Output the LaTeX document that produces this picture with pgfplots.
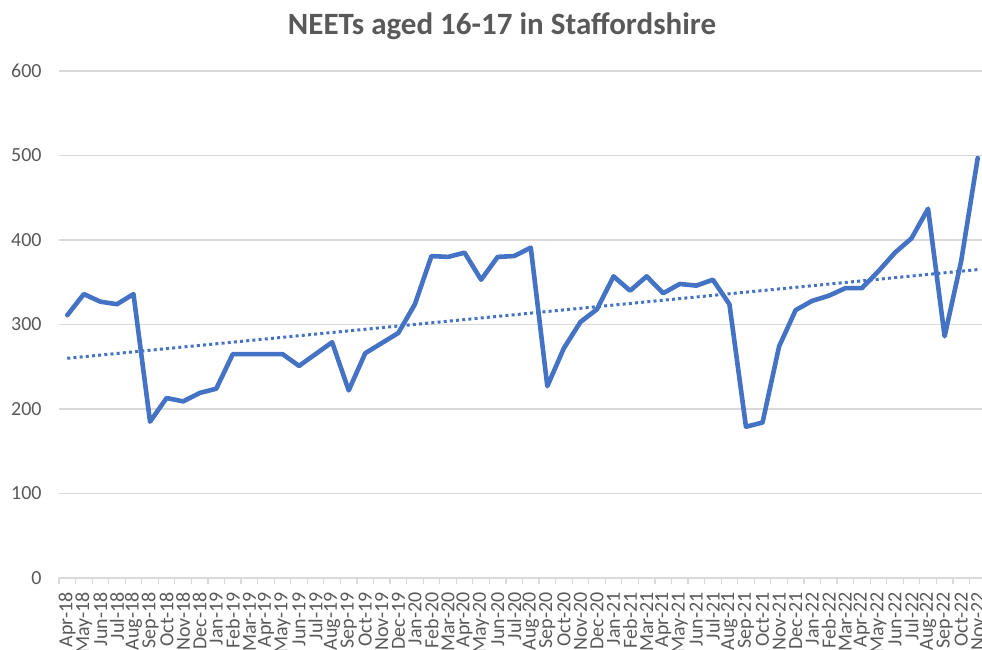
\documentclass[border=0pt]{standalone}
\usepackage{fontspec}
\setmainfont{Carlito}
\usepackage{pgfplots}
\usepackage{pgfplotstable}
\pgfplotsset{compat=1.18}
\definecolor{exblue}{HTML}{4472C4}
\definecolor{exgrid}{HTML}{D9D9D9}
\definecolor{extext}{HTML}{595959}
\pgfplotstableread{
idx val
0 311
1 336
2 327
3 324
4 336
5 185
6 213
7 209
8 219
9 224
10 265
11 265
12 265
13 265
14 251
15 265
16 279
17 222
18 266
19 278
20 290
21 324
22 381
23 380
24 385
25 353
26 380
27 381
28 391
29 227
30 272
31 303
32 318
33 357
34 340
35 357
36 337
37 348
38 346
39 353
40 324
41 179
42 184
43 274
44 317
45 328
46 334
47 343
48 343
49 363
50 385
51 402
52 437
53 286
54 375
55 497
}\neets
\begin{document}
\begin{tikzpicture}[x=1pt,y=1pt]
\begin{axis}[
  at={(59pt,72pt)}, anchor=south west,
  scale only axis, width=927pt, height=507pt,
  xmin=-0.5, xmax=55.5, ymin=0, ymax=600,
  ytick={0,100,...,600},
  ymajorgrids, grid style={exgrid, line width=1.3pt},
  axis x line*=bottom, axis y line*=left,
  y axis line style={draw=none},
  x axis line style={draw=exgrid, line width=1.3pt, -},
  ytick style={draw=none},
  xtick={0,...,55},
  major x tick style={draw=none},
  minor xtick={-0.5,0.5,...,55.5},
  minor x tick style={exgrid, line width=1.2pt},
  minor tick length=6pt,
  tick align=outside,
  xticklabels={Apr-18,May-18,Jun-18,Jul-18,Aug-18,Sep-18,Oct-18,Nov-18,Dec-18,Jan-19,Feb-19,Mar-19,Apr-19,May-19,Jun-19,Jul-19,Aug-19,Sep-19,Oct-19,Nov-19,Dec-19,Jan-20,Feb-20,Mar-20,Apr-20,May-20,Jun-20,Jul-20,Aug-20,Sep-20,Oct-20,Nov-20,Dec-20,Jan-21,Feb-21,Mar-21,Apr-21,May-21,Jun-21,Jul-21,Aug-21,Sep-21,Oct-21,Nov-21,Dec-21,Jan-22,Feb-22,Mar-22,Apr-22,May-22,Jun-22,Jul-22,Aug-22,Sep-22,Oct-22,Nov-22},
  xticklabel style={yshift=-10pt, rotate=90, anchor=east, font=\fontsize{20}{20}\selectfont, text=extext, inner sep=0pt},
  yticklabel style={xshift=-13pt, font=\fontsize{20}{20}\selectfont, text=extext, anchor=east, inner sep=0pt},
  /pgf/number format/assume math mode=true,
  clip=false,
]
\addplot[exblue, line width=3pt, dash pattern=on 3pt off 3.2pt] coordinates {(0,260) (55,365)};
\addplot[exblue, line width=4.6pt, line join=round, line cap=round] table[x=idx, y=val] {\neets};
\end{axis}
\node[font=\fontsize{31}{31}\selectfont\bfseries, text=extext] at (502pt,624pt) {NEETs aged 16-17 in Staffordshire};
\pgfresetboundingbox
\useasboundingbox (0,0) rectangle (982pt,650pt);
\end{tikzpicture}
\end{document}
